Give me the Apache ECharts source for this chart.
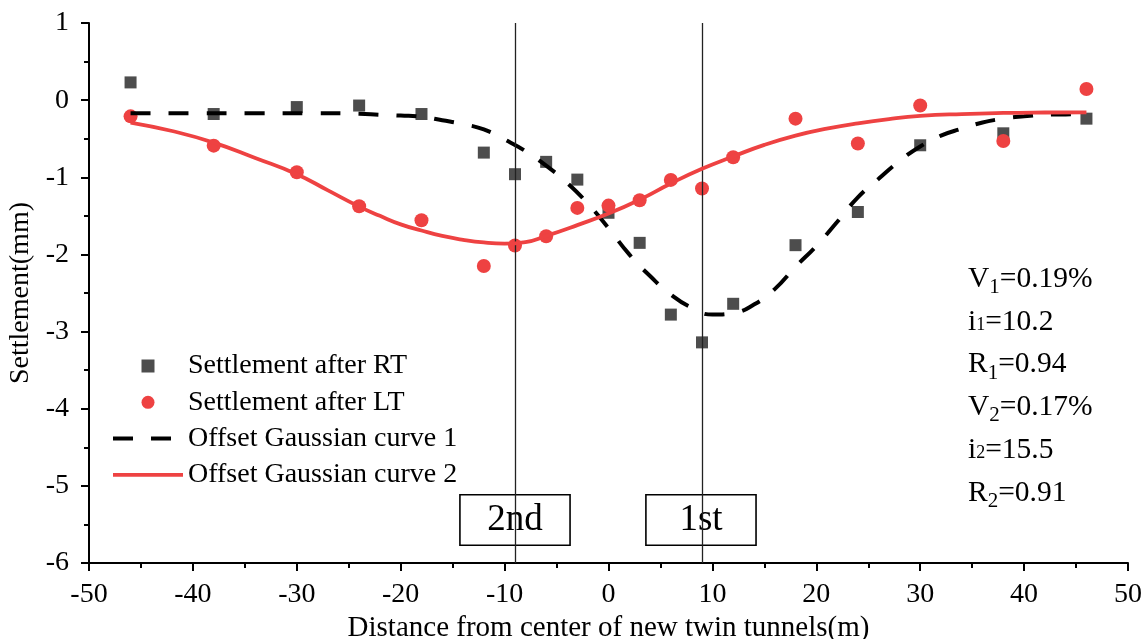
<!DOCTYPE html>
<html>
<head>
<meta charset="utf-8">
<script src="https://cdn.jsdelivr.net/npm/echarts@6/dist/echarts.min.js"></script>
<style>
  html, body { margin: 0; padding: 0; background: #fff; }
  #chart { width: 1146px; height: 639px; }
</style>
</head>
<body>
<div id="chart"></div>
<script>
// Measured surface settlement (mm) at each monitoring point (m)
const offsets = [-46, -38, -30, -24, -18, -12, -9, -6, -3, 0, 3, 6, 9, 12, 18, 24, 30, 38, 46];
const settlementRT = [0.23, -0.18, -0.09, -0.07, -0.18, -0.68, -0.96, -0.80, -1.03, -1.46, -1.85, -2.78, -3.14, -2.64, -1.88, -1.45, -0.585, -0.43, -0.24];
const settlementLT = [-0.21, -0.59, -0.935, -1.375, -1.557, -2.15, -1.885, -1.764, -1.397, -1.367, -1.298, -1.034, -1.146, -0.74, -0.24, -0.563, -0.07, -0.53, 0.145];

// Fitted offset Gaussian curves, [x, settlement]
const gaussCurve1 = [
  [-46, -0.17], [-40, -0.17], [-34, -0.17], [-28, -0.17], [-24, -0.175], [-22, -0.19],
  [-20, -0.20], [-18, -0.215], [-16, -0.26], [-14, -0.31], [-12, -0.38], [-10, -0.51],
  [-8, -0.66], [-6, -0.85], [-4, -1.07], [-2, -1.34], [0, -1.66], [2, -2.0], [4, -2.28],
  [6, -2.52], [8, -2.69], [10, -2.78], [12, -2.76], [14, -2.65], [16, -2.45], [18, -2.16],
  [20, -1.89], [22, -1.58], [24, -1.26], [26, -1.02], [28, -0.79], [30, -0.60], [32, -0.46],
  [34, -0.37], [36, -0.29], [38, -0.24], [40, -0.21], [42, -0.19], [44, -0.185], [46, -0.18]
];
const gaussCurve2 = [
  [-46, -0.29], [-42, -0.40], [-38, -0.55], [-34, -0.75], [-30, -0.96], [-27, -1.17],
  [-24, -1.38], [-22, -1.50], [-20, -1.61], [-18, -1.69], [-16, -1.76], [-14, -1.81],
  [-12, -1.845], [-10, -1.86], [-8, -1.84], [-6, -1.76], [-3, -1.62], [0, -1.47],
  [3, -1.29], [6, -1.08], [9, -0.89], [12, -0.73], [15, -0.58], [18, -0.46], [21, -0.37],
  [24, -0.30], [27, -0.245], [30, -0.205], [34, -0.18], [38, -0.166], [42, -0.16], [46, -0.158]
];

// Tunnel centre lines and their tags
const tunnelCentres = [-9, 9];
const tunnelTags = [
  { name: '2nd', x0: -14.3, x1: -3.7 },
  { name: '1st', x0: 3.6, x1: 14.2 }
];
const tagBand = [-5.115, -5.77];

// Fitting parameters
const fitLines = [
  { main: 'V', sub: '1', rest: '=0.19%', kind: 'v' },
  { main: 'i', sub: '1', rest: '=10.2', kind: 'i' },
  { main: 'R', sub: '1', rest: '=0.94', kind: 'v' },
  { main: 'V', sub: '2', rest: '=0.17%', kind: 'v' },
  { main: 'i', sub: '2', rest: '=15.5', kind: 'i' },
  { main: 'R', sub: '2', rest: '=0.91', kind: 'v' }
];

const FONT = '"Liberation Serif", "Times New Roman", serif';
const RED = '#EE4242';
const GREY = '#4D4D4D';

const chart = echarts.init(document.getElementById('chart'), null, { renderer: 'canvas' });

const rich = {
  m: { fontFamily: FONT, fontSize: 29.5, lineHeight: 38, verticalAlign: 'middle', color: '#000' },
  s: { fontFamily: FONT, fontSize: 21, lineHeight: 21, verticalAlign: 'bottom', color: '#000' },
  t: { fontFamily: FONT, fontSize: 18, lineHeight: 18, verticalAlign: 'middle', padding: [7, 0, 0, 0], color: '#000' }
};

const fitGraphics = fitLines.map((f, k) => ({
  type: 'text',
  left: 968,
  top: 264 + k * 42.8,
  z: 10,
  style: {
    text: '{m|' + f.main + '}{' + (f.kind === 'i' ? 't' : 's') + '|' + f.sub + '}{m|' + f.rest + '}',
    rich: rich
  }
}));

const hidden = { opacity: 0 };

const option = {
  animation: false,
  backgroundColor: '#fff',
  grid: { left: 89, right: 18, top: 23, bottom: 76, containLabel: false, outerBoundsMode: 'none' },
  legend: {
    orient: 'vertical',
    left: 106,
    top: 347,
    padding: 5,
    itemWidth: 70,
    itemHeight: 13,
    itemGap: 8.3,
    lineStyle: { width: 'inherit', type: 'inherit' },
    data: [
      { name: 'Settlement after RT', icon: 'path://M0,0h10v10h-10Z' },
      { name: 'Settlement after LT', icon: 'circle' },
      { name: 'Offset Gaussian curve 1', itemStyle: hidden },
      { name: 'Offset Gaussian curve 2', itemStyle: hidden }
    ],
    textStyle: { fontFamily: FONT, fontSize: 28, color: '#000' }
  },
  xAxis: {
    type: 'value',
    min: -50, max: 50, interval: 10,
    name: 'Distance from center of new twin tunnels(m)',
    nameLocation: 'middle',
    nameGap: 46,
    nameTextStyle: { fontFamily: FONT, fontSize: 29, color: '#000' },
    axisLine: { onZero: false, lineStyle: { color: '#000', width: 2 } },
    axisTick: { show: true, length: 8, lineStyle: { color: '#000', width: 2 } },
    minorTick: { show: true, splitNumber: 2, length: 5, lineStyle: { color: '#000', width: 2 } },
    splitLine: { show: false },
    axisLabel: { fontFamily: FONT, fontSize: 28, color: '#000', margin: 18 }
  },
  yAxis: {
    type: 'value',
    min: -6, max: 1, interval: 1,
    name: 'Settlement(mm)',
    nameLocation: 'middle',
    nameGap: 46,
    nameTextStyle: { fontFamily: FONT, fontSize: 28, color: '#000' },
    axisLine: { onZero: false, lineStyle: { color: '#000', width: 2 } },
    axisTick: { show: true, length: 8, lineStyle: { color: '#000', width: 2 } },
    minorTick: { show: true, splitNumber: 2, length: 5, lineStyle: { color: '#000', width: 2 } },
    splitLine: { show: false },
    axisLabel: { fontFamily: FONT, fontSize: 28, color: '#000', margin: 20 }
  },
  graphic: fitGraphics,
  series: [
    {
      name: 'tunnel centres',
      type: 'line',
      data: [],
      z: 1,
      markLine: {
        silent: true,
        symbol: 'none',
        label: { show: false },
        lineStyle: { color: '#222', width: 1.3, type: 'solid' },
        data: tunnelCentres.map(x => ({ xAxis: x }))
      }
    },
    {
      name: 'Settlement after RT',
      type: 'scatter',
      symbol: 'rect',
      symbolSize: 12,
      z: 2,
      itemStyle: { color: GREY, opacity: 1 },
      data: offsets.map((x, k) => [x, settlementRT[k]])
    },
    {
      name: 'Settlement after LT',
      type: 'scatter',
      symbol: 'circle',
      symbolSize: 14,
      z: 3,
      itemStyle: { color: RED, opacity: 1 },
      data: offsets.map((x, k) => [x, settlementLT[k]])
    },
    {
      name: 'Offset Gaussian curve 1',
      type: 'line',
      smooth: 0.5,
      symbol: 'none',
      showSymbol: false,
      z: 4,
      itemStyle: { color: '#000' },
      lineStyle: { color: '#000', width: 4, type: [20, 18], cap: 'butt' },
      data: gaussCurve1
    },
    {
      name: 'Offset Gaussian curve 2',
      type: 'line',
      smooth: 0.5,
      symbol: 'none',
      showSymbol: false,
      z: 5,
      itemStyle: { color: RED },
      lineStyle: { color: RED, width: 3.8, type: 'solid' },
      data: gaussCurve2
    },
    {
      name: 'tunnel tags',
      type: 'line',
      data: [],
      z: 6,
      markArea: {
        silent: true,
        itemStyle: { color: '#fff', borderColor: '#000', borderWidth: 1.6, opacity: 1 },
        label: { show: true, position: 'inside', fontFamily: FONT, fontSize: 37, color: '#000' },
        data: tunnelTags.map(t => [
          { name: t.name, xAxis: t.x0, yAxis: tagBand[0] },
          { xAxis: t.x1, yAxis: tagBand[1] }
        ])
      }
    }
  ]
};

chart.setOption(option);
</script>
</body>
</html>
